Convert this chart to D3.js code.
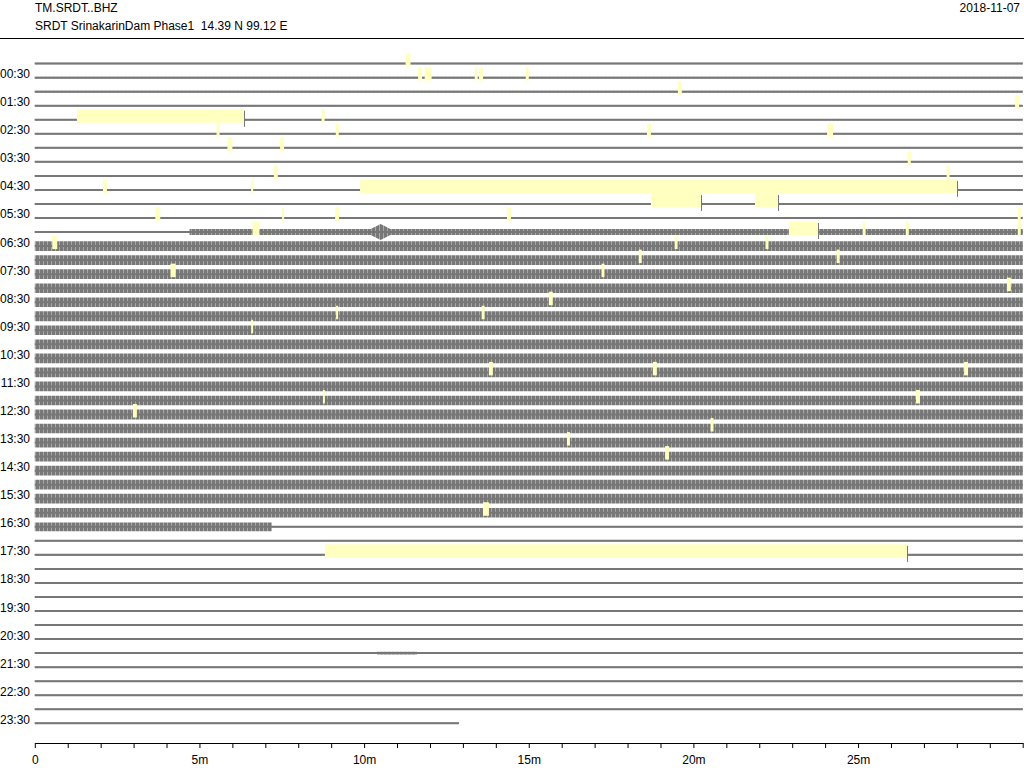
<!DOCTYPE html>
<html>
<head>
<meta charset="utf-8">
<script src="https://cdn.jsdelivr.net/npm/d3@7"></script>
<style>
  html, body { margin: 0; padding: 0; background: #fff; }
  svg { display: block; }
  text { font-family: "Liberation Sans", Arial, Helvetica, sans-serif; font-size: 12px; fill: #000; white-space: pre; }
</style>
</head>
<body>
<svg id="chart" width="1024" height="768"></svg>
<script>
// ---------------- DATA ----------------
const stationCode = "TM.SRDT..BHZ";
const stationInfo = "SRDT SrinakarinDam Phase1  14.39 N 99.12 E";
const dayLabel = "2018-11-07";

// one trace per 30 minutes, labels on every second trace
const hourLabels = ["00:30","01:30","02:30","03:30","04:30","05:30","06:30","07:30",
  "08:30","09:30","10:30","11:30","12:30","13:30","14:30","15:30","16:30","17:30",
  "18:30","19:30","20:30","21:30","22:30","23:30"];

// minute axis
const minuteTicks = [0,1,2,3,4,5,6,7,8,9,10,11,12,13,14,15,16,17,18,19,20,21,22,23,24,25,26,27,28,29,30];
const minuteLabels = ["0","","","","","5m","","","","","10m","","","","","15m","","","","","20m","","","","","25m","","","","",""];

// noise amplitude (counts) at the start of each 30-minute trace
const traceLevel = [
  110,115,115,110,110,110,110,110,110,110,110,110,   // 00:00 - 05:30
  110,690,700,690,680,690,700,690,690,700,690,700,   // 06:00 - 11:30
  690,700,690,690,700,690,690,700,690,620,110,110,   // 12:00 - 17:30
  110,110,110,110,110,110,110,110,110,110,110,110    // 18:00 - 23:30
];
// changes of the noise level inside a trace: trace, minute, new level
const levelTrace  = [12, 33, 42, 42];
const levelMinute = [4.7, 7.2, 10.4, 11.6];
const levelValue  = [420, 110, 190, 110];

// bursts (spindle shaped events): trace, start, peak, end minute, peak level
const burstTrace = [12];
const burstStart = [10.2];
const burstPeak  = [10.5];
const burstEnd   = [10.8];
const burstLevel = [1150];

// minute at which the last trace stops
const lastTraceEnd = 12.88;

// data gaps (large yellow boxes): trace, start, end minute
const gapTrace = [4, 9, 10, 10, 12, 35];
const gapStart = [1.28, 9.88, 18.71, 21.87, 22.90, 8.81];
const gapEnd   = [6.35, 28.00, 20.23, 22.57, 23.78, 26.49];

// short yellow marks: trace, start, end minute
const markTrace = [0, 1,1,1,1,1, 2, 3, 4, 5,5,5,5, 6,6, 7, 8,8, 9,9,
  11,11,11,11,11, 12,12,12,12, 13,13,13, 14,14, 15,15, 16, 17, 18,18, 19,
  22,22,22, 24,24, 25, 26, 27, 28, 32];
const markStart = [11.26, 11.64,11.84,13.36,13.49,14.91, 19.53, 29.77, 8.71, 5.52,9.14,18.59,24.06, 5.85,7.45, 26.51, 7.26,27.69, 2.07,6.57,
  3.66,7.51,9.12,14.34,29.85, 6.61,25.14,26.45,29.85, 0.53,19.43,22.19, 18.34,24.35, 4.12,17.21, 29.52, 15.61, 13.57,9.15, 6.57,
  13.79,18.77,28.22, 8.75,26.76, 2.98, 20.52, 16.16, 19.14, 13.61];
const markEnd = [11.41, 11.76,12.05,13.45,13.61,15.00, 19.65, 29.89, 8.80, 5.61,9.23,18.71,24.24, 6.00,7.57, 26.60, 7.38,27.78, 2.19,6.63,
  3.81,7.57,9.24,14.46,29.94, 6.82,25.23,26.54,29.94, 0.68,19.52,22.28, 18.43,24.44, 4.28,17.30, 29.64, 15.73, 13.66,9.21, 6.63,
  13.91,18.89,28.34, 8.81,26.88, 3.10, 20.61, 16.25, 19.26, 13.79];

// ---------------- CHART ----------------
const svg = d3.select("#chart");
const W = 1024, H = 768;
const traceColor = "#777777";
const markColor = "#ffffc0";

const nTraces = traceLevel.length;
const x = d3.scaleLinear().domain([0, 30]).range([34.8, 1022.7]);
const y = d3.scalePoint().domain(d3.range(nTraces)).range([63.6, 723.3]);
const amp = d3.scaleLinear().domain([0, 1000]).range([0, 7]);

// texture for the noise envelope (style only): fine vertical streaks
const defs = svg.append("defs");
const pat = defs.append("pattern").attr("id", "noise").attr("patternUnits", "userSpaceOnUse")
  .attr("width", 4).attr("height", 14);
pat.append("rect").attr("width", 4).attr("height", 14).attr("fill", "#787878");
pat.append("rect").attr("x", 3).attr("y", 0).attr("width", 1).attr("height", 14).attr("fill", "#a8a8a8");

// header
svg.append("text").attr("x", 35).attr("y", 12).text(stationCode);
svg.append("text").attr("x", 35).attr("y", 29.5).attr("xml:space", "preserve").text(stationInfo);
svg.append("text").attr("x", 1020).attr("y", 12).attr("text-anchor", "end").text(dayLabel);
svg.append("line").attr("x1", 0).attr("x2", W).attr("y1", 38.5).attr("y2", 38.5)
  .attr("stroke", "#000").attr("stroke-width", 1);

// envelope helpers
function levelAt(i, m) {
  let base = traceLevel[i];
  const ch = levelTrace.map((t, k) => k).filter(k => levelTrace[k] === i && levelMinute[k] <= m)
    .sort((a, b) => levelMinute[a] - levelMinute[b]);
  ch.forEach(k => { base = levelValue[k]; });
  burstTrace.forEach((t, k) => {
    if (t === i && m >= burstStart[k] && m <= burstEnd[k]) {
      const f = m <= burstPeak[k]
        ? (m - burstStart[k]) / (burstPeak[k] - burstStart[k])
        : (burstEnd[k] - m) / (burstEnd[k] - burstPeak[k]);
      base = base + (burstLevel[k] - base) * f;
    }
  });
  return base;
}

const area = d3.area()
  .x(d => x(d.m))
  .y0(d => d.yc - amp(d.v))
  .y1(d => d.yc + amp(d.v))
  .curve(d3.curveLinear);

const traceG = svg.append("g");
for (let i = 0; i < nTraces; i++) {
  const end = i === nTraces - 1 ? lastTraceEnd : 30;
  let intervals = [[0, end]];
  gapTrace.forEach((t, k) => {
    if (t !== i) return;
    const out = [];
    intervals.forEach(([a, b]) => {
      if (gapEnd[k] <= a || gapStart[k] >= b) { out.push([a, b]); return; }
      if (gapStart[k] > a) out.push([a, gapStart[k]]);
      if (gapEnd[k] < b) out.push([gapEnd[k], b]);
    });
    intervals = out;
  });
  const yc = y(i);
  const steps = levelTrace.map((t, k) => k).filter(k => levelTrace[k] === i).map(k => levelMinute[k]);
  const bpts = [];
  burstTrace.forEach((t, k) => { if (t === i) bpts.push(burstStart[k], burstPeak[k], burstEnd[k]); });
  intervals.forEach(([a, b]) => {
    const pts = [];
    pts.push({ m: a, v: levelAt(i, a), yc });
    const inner = [];
    steps.forEach(s => { if (s > a && s < b) { inner.push({ m: s - 1e-4, v: levelAt(i, s - 1e-4), yc }); inner.push({ m: s, v: levelAt(i, s), yc }); } });
    bpts.forEach(s => { if (s > a && s < b) inner.push({ m: s, v: levelAt(i, s), yc }); });
    inner.sort((p, q) => p.m - q.m);
    pts.push(...inner);
    pts.push({ m: b, v: levelAt(i, b), yc });
    // noise envelope
    traceG.append("path").datum(pts).attr("d", area)
      .attr("fill", "url(#noise)");
    // base line of the trace
    traceG.append("line")
      .attr("x1", x(a)).attr("x2", x(b)).attr("y1", yc).attr("y2", yc)
      .attr("stroke", traceColor).attr("stroke-width", 2);
  });
}

// yellow marks (short)
svg.append("g").selectAll("rect").data(markTrace.map((t, k) => k)).join("rect")
  .attr("x", k => x(markStart[k]))
  .attr("width", k => Math.max(1.5, x(markEnd[k]) - x(markStart[k])))
  .attr("y", k => y(markTrace[k]) - 10.5)
  .attr("height", 13.5)
  .attr("fill", markColor);

// gap boxes
const gapG = svg.append("g");
gapG.selectAll("rect").data(gapTrace.map((t, k) => k)).join("rect")
  .attr("x", k => x(gapStart[k]))
  .attr("width", k => x(gapEnd[k]) - x(gapStart[k]))
  .attr("y", k => y(gapTrace[k]) - 10.5)
  .attr("height", 13.5)
  .attr("fill", markColor);
gapG.selectAll("line").data(gapTrace.map((t, k) => k)).join("line")
  .attr("x1", k => Math.round(x(gapEnd[k])) + 0.5)
  .attr("x2", k => Math.round(x(gapEnd[k])) + 0.5)
  .attr("y1", k => y(gapTrace[k]) - 9)
  .attr("y2", k => y(gapTrace[k]) + 7)
  .attr("stroke", traceColor).attr("stroke-width", 1);

// hour labels on odd traces
svg.append("g").selectAll("text").data(hourLabels).join("text")
  .attr("x", 30).attr("text-anchor", "end")
  .attr("y", (d, j) => y(2 * j + 1) + 0.5)
  .text(d => d);

// minute axis
const axis = d3.axisBottom(x)
  .tickValues(minuteTicks)
  .tickFormat((d, j) => minuteLabels[j])
  .tickSize(5).tickSizeOuter(0).tickPadding(7);
const ax = svg.append("g").attr("transform", "translate(0,743)").call(axis);
ax.selectAll("text").style("font-size", "12px").attr("fill", "#000")
  .style("font-family", "'Liberation Sans', Arial, sans-serif");
ax.selectAll("path, line").attr("stroke", "#000");
</script>
</body>
</html>
